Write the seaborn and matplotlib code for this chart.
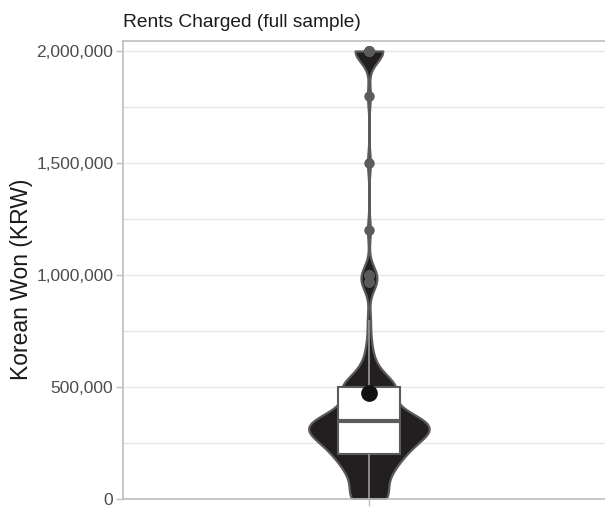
import numpy as np
import pandas as pd
import matplotlib
matplotlib.use("Agg")
import matplotlib.pyplot as plt
from matplotlib.ticker import FuncFormatter, MultipleLocator
import seaborn as sns

# Monthly rent levels (KRW) and how many households reported each level
rent_levels = [0, 50000, 100000, 150000, 200000, 250000, 300000, 350000,
               400000, 450000, 500000, 550000, 600000, 650000, 700000, 800000,
               970000, 1000000, 1200000, 1500000, 1800000, 2000000]
household_counts = [9, 4, 6, 8, 11, 13, 20, 21,
                    6, 6, 12, 4, 2, 1, 1, 1,
                    3, 3, 1, 1, 1, 10]

title = "Rents Charged (full sample)"
y_label = "Korean Won (KRW)"
y_ticks = [0, 500000, 1000000, 1500000, 2000000]

rents = np.repeat(rent_levels, household_counts).astype(float)
df = pd.DataFrame({"sample": "full", "rent": rents})

sns.set_style("white")
plt.rcParams["font.family"] = ["Liberation Sans", "DejaVu Sans"]

fig = plt.figure(figsize=(6.05, 5.08), dpi=100)
ax = fig.add_axes([123 / 605, 9 / 508, 482 / 605, 458 / 508])

# Kernel bandwidth of roughly 50,000 KRW
bw = 50000 / rents.std(ddof=1)

sns.violinplot(data=df, y="rent", cut=0, inner=None, bw_method=bw,
               gridsize=800, width=0.245, color="#231F20",
               linecolor="#5B5B5B", linewidth=1.6, saturation=1, ax=ax)

sns.boxplot(data=df, y="rent", width=0.126, color="white",
            linecolor="#5B5B5B", linewidth=1.5, saturation=1,
            showcaps=False, fliersize=6.5,
            flierprops=dict(marker="o", markerfacecolor="#5B5B5B",
                            markeredgecolor="#5B5B5B"),
            medianprops=dict(color="#5B5B5B", linewidth=3),
            whiskerprops=dict(color="#9A9A9A", linewidth=1.2),
            showmeans=True,
            meanprops=dict(marker="o", markerfacecolor="#111111",
                           markeredgecolor="#111111", markersize=11),
            ax=ax)

ax.set_xlim(-0.5, 0.48)
ax.set_ylim(0, 2.0446e6)
ax.set_yticks(y_ticks)
ax.yaxis.set_major_formatter(FuncFormatter(lambda v, p: f"{v:,.0f}"))
ax.yaxis.set_minor_locator(MultipleLocator(250000))
ax.grid(axis="y", which="both", color="#E6E6E6", linewidth=1)
ax.set_axisbelow(True)

ax.set_xticks([0])
ax.set_xticklabels([""])
ax.set_xlabel("")
ax.tick_params(axis="y", which="major", left=True, length=5, width=1,
               color="#BDBDBD", labelsize=12.5, labelcolor="#4D4D4D", pad=2)
ax.tick_params(axis="y", which="minor", left=False, length=0)
ax.tick_params(axis="x", bottom=True, length=5, width=1, color="#BDBDBD")

for side in ["left", "top", "bottom"]:
    ax.spines[side].set_visible(True)
    ax.spines[side].set_color("#BDBDBD")
    ax.spines[side].set_linewidth(1.2)
ax.spines["right"].set_visible(False)

ax.set_ylabel(y_label, fontsize=16.5, color="#1A1A1A")
ax.yaxis.set_label_coords(-0.187, 0.48)
ax.set_title(title, loc="left", fontsize=13.8, color="#1A1A1A", pad=10)

fig.savefig("out.png", dpi=100)
